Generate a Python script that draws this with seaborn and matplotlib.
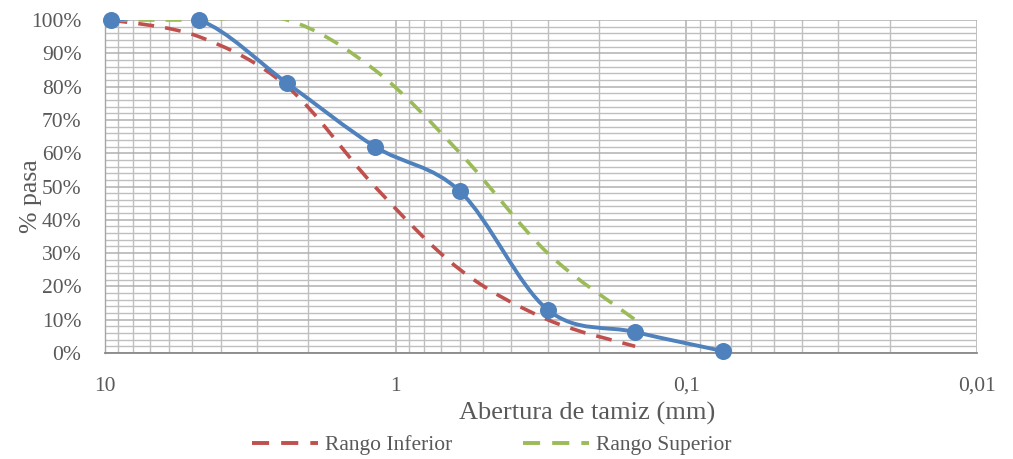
import numpy as np
import matplotlib
matplotlib.use("Agg")
import matplotlib.pyplot as plt
import seaborn as sns
from matplotlib.path import Path
from matplotlib.patches import PathPatch
from matplotlib.lines import Line2D
from matplotlib.ticker import FixedLocator, FuncFormatter, MultipleLocator, LogLocator, NullFormatter

# ---- data ----
sieve_mm = [9.5, 4.75, 2.36, 1.18, 0.6, 0.3, 0.15, 0.075]
pct_pass = [100, 100, 81, 62, 48.5, 13, 6.3, 0.6]
range_mm = [9.5, 4.75, 2.36, 1.18, 0.6, 0.3, 0.15]
rango_inferior = [100, 95, 80, 50, 25, 10, 2]
rango_superior = [100, 100, 100, 85, 60, 30, 10]
x_ticks = [10, 1, 0.1, 0.01]
x_ticklabels = ["10", "1", "0,1", "0,01"]

BLUE = "#4F81BD"
RED = "#C0504D"
GREEN = "#9BBB59"
GRID = "#BFBFBF"
TXT = "#595959"
DASH = (4.4, 3.1)

sns.set_theme(style="white")
plt.rcParams["font.family"] = ["Liberation Serif", "DejaVu Serif"]

fig = plt.figure(figsize=(10.13, 4.59), dpi=100)
ax = fig.add_axes([105/1013, 1-353/459, (977-105)/1013, (353-20)/459])

ax.set_xscale("log")
ax.set_xlim(10, 0.01)
ax.set_ylim(0, 100)

# pixel scale factors for smoothing (px per decade, px per %)
SX = 290.5
SY = 3.33


def smooth_path(xs, ys):
    u = np.log10(np.asarray(xs, float)) * SX
    v = np.asarray(ys, float) * SY
    pts = np.column_stack([u, v])
    n = len(pts)
    verts = [pts[0]]
    codes = [Path.MOVETO]
    for i in range(n - 1):
        p0 = pts[i - 1] if i > 0 else pts[i]
        p1 = pts[i]
        p2 = pts[i + 1]
        p3 = pts[i + 2] if i + 2 < n else pts[i + 1]
        c1 = p1 + (p2 - p0) / 6.0
        c2 = p2 - (p3 - p1) / 6.0
        verts += [c1, c2, p2]
        codes += [Path.CURVE4] * 3
    verts = np.array(verts)
    data = np.column_stack([10 ** (verts[:, 0] / SX), verts[:, 1] / SY])
    return Path(data, codes)


def add_curve(xs, ys, color, lw, dashes=None, z=3):
    patch = PathPatch(smooth_path(xs, ys), facecolor="none", edgecolor=color,
                      lw=lw, zorder=z, capstyle="butt", joinstyle="round")
    if dashes is not None:
        patch.set_linestyle((0, dashes))
    ax.add_patch(patch)


add_curve(range_mm, rango_inferior, RED, 2.6, dashes=DASH, z=3)
add_curve(range_mm, rango_superior, GREEN, 2.6, dashes=DASH, z=3)
add_curve(sieve_mm, pct_pass, BLUE, 2.8, z=4)
sns.scatterplot(x=sieve_mm, y=pct_pass, ax=ax, color=BLUE, s=150,
                edgecolor=BLUE, linewidth=0, zorder=5, clip_on=False)

# ---- grid ----
ax.xaxis.set_major_locator(FixedLocator(x_ticks))
ax.xaxis.set_major_formatter(FuncFormatter(lambda v, p: x_ticklabels[x_ticks.index(v)] if v in x_ticks else ""))
ax.xaxis.set_minor_locator(LogLocator(base=10, subs=np.arange(2, 10)))
ax.xaxis.set_minor_formatter(NullFormatter())
ax.yaxis.set_major_locator(MultipleLocator(10))
ax.yaxis.set_minor_locator(MultipleLocator(2))
ax.yaxis.set_major_formatter(FuncFormatter(lambda v, p: f"{v:.0f}%"))

ax.grid(True, which="major", axis="both", color="#B0B0B0", lw=1.1, zorder=0)
ax.grid(True, which="minor", axis="both", color=GRID, lw=1.0, zorder=0)
ax.set_axisbelow(True)

for s in ["top", "right"]:
    ax.spines[s].set_visible(False)
ax.spines["left"].set_color("#A6A6A6")
ax.spines["left"].set_linewidth(1.0)
ax.spines["bottom"].set_color("#898989")
ax.spines["bottom"].set_linewidth(1.3)

ax.tick_params(axis="x", which="major", length=5, width=1.0, color="#898989",
               direction="out", labelsize=15.5, pad=12, labelcolor=TXT)
ax.tick_params(axis="x", which="minor", length=0)
ax.tick_params(axis="y", which="major", length=0, labelsize=15.5, pad=17, labelcolor=TXT)
ax.tick_params(axis="y", which="minor", length=0)

ax.set_xlabel("Abertura de tamiz (mm)", fontsize=19, color=TXT, va="center")
ax.xaxis.set_label_coords((587-105)/872, (353-413)/333)
ax.set_ylabel("% pasa", fontsize=18.5, color=TXT, va="center", ha="center")
ax.yaxis.set_label_coords((31-105)/872, (353-196)/333)

handles = [Line2D([0], [0], color=RED, lw=2.8, linestyle=(0, DASH)),
           Line2D([0], [0], color=GREEN, lw=2.8, linestyle=(0, DASH))]
fig.legend(handles, ["Rango Inferior", "Rango Superior"], loc="center",
           bbox_to_anchor=(492/1013, 1-445/459), ncol=2, frameon=False,
           fontsize=15.5, handlelength=3.05, handletextpad=0.33, columnspacing=3.3,
           labelcolor=TXT)

fig.savefig("out.png", dpi=100)
